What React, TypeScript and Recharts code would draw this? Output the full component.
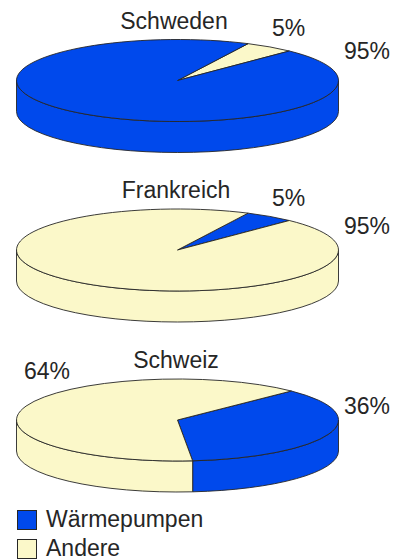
import React from "react";
import { PieChart, Pie, Cell, Legend } from "recharts";

const BLUE = "#0049ec";
const CREAM = "#fbf8c9";
const INK = "#262626";
const FONT = "'Liberation Sans', Arial, sans-serif";
const TEXT_SIZE = 23;

const legendNames = ["Wärmepumpen", "Andere"];
const legendColors = [BLUE, CREAM];

const schwedenNames = ["Andere", "Wärmepumpen"];
const schwedenValues = [5, 95];
const frankreichNames = ["Wärmepumpen", "Andere"];
const frankreichValues = [5, 95];
const schweizNames = ["Wärmepumpen", "Andere"];
const schweizValues = [36, 64];

const colorOf = (name: string) => legendColors[legendNames.indexOf(name)];
const table = (names: string[], values: number[]) =>
  names.map((name, i) => ({ name, value: values[i] }));

const pies = [
  {
    title: "Schweden", cy: 80.5, start: 64, titlePos: [174, 29],
    data: table(schwedenNames, schwedenValues),
    labelPos: [[272, 36], [344, 59]],
  },
  {
    title: "Frankreich", cy: 250, start: 64, titlePos: [176, 198],
    data: table(frankreichNames, frankreichValues),
    labelPos: [[272, 206], [344, 234]],
  },
  {
    title: "Schweiz", cy: 420, start: 45, titlePos: [176, 368],
    data: table(schweizNames, schweizValues),
    labelPos: [[344, 414], [24, 379]],
  },
];

const CX = 177.5;
const RX = 161;
const RY = 41;
const DEPTH = 31;

const pt = (cx: number, cy: number, a: number) => {
  const r = (a * Math.PI) / 180;
  return [cx + RX * Math.cos(r), cy - RY * Math.sin(r)];
};

const TopFace = (p: any) => {
  const { cx, cy, startAngle, endAngle, fill } = p;
  const [x0, y0] = pt(cx, cy, startAngle);
  const [x1, y1] = pt(cx, cy, endAngle);
  const large = Math.abs(startAngle - endAngle) > 180 ? 1 : 0;
  return (
    <path
      d={`M${cx},${cy}L${x0},${y0}A${RX},${RY} 0 ${large} 1 ${x1},${y1}Z`}
      fill={fill}
      stroke={INK}
      strokeWidth={0.9}
      strokeLinejoin="round"
    />
  );
};

const Wall = (p: any) => {
  const { cx, cy, startAngle, endAngle, fill } = p;
  const lo = Math.min(startAngle, endAngle);
  const hi = Math.max(startAngle, endAngle);
  const parts: string[] = [];
  for (const k of [-1, 0]) {
    const a = Math.max(lo, -180 + 360 * k);
    const b = Math.min(hi, 360 * k);
    if (b <= a) continue;
    const [x0, y0] = pt(cx, cy, b);
    const [x1, y1] = pt(cx, cy, a);
    parts.push(
      `M${x0},${y0}A${RX},${RY} 0 0 1 ${x1},${y1}L${x1},${y1 + DEPTH}A${RX},${RY} 0 0 0 ${x0},${y0 + DEPTH}Z`
    );
  }
  return <path d={parts.join("")} fill={fill} stroke={INK} strokeWidth={0.9} strokeLinejoin="round" />;
};

const textStyle = { fontFamily: FONT, fontSize: TEXT_SIZE, fill: INK };

const LegendBox = () => (
  <div style={{ fontFamily: FONT, fontSize: TEXT_SIZE, color: INK, lineHeight: "29px" }}>
    {legendNames.map((n, i) => (
      <div key={n} style={{ display: "flex", alignItems: "center", height: 29 }}>
        <span
          style={{
            display: "inline-block", width: 20, height: 20, marginRight: 9,
            background: legendColors[i], border: `1px solid ${INK}`, boxSizing: "border-box",
          }}
        />
        {n}
      </div>
    ))}
  </div>
);

export default function App() {
  return (
    <div style={{ position: "absolute", left: 0, top: 0, width: 402, height: 560 }}>
      <PieChart width={402} height={560} margin={{ top: 0, right: 0, bottom: 0, left: 0 }}>
        {pies.map((c) => (
          <Pie
            key={c.title + "-wall"}
            data={c.data}
            dataKey="value"
            nameKey="name"
            cx={CX}
            cy={c.cy}
            outerRadius={RX}
            startAngle={c.start}
            endAngle={c.start - 360}
            isAnimationActive={false}
            legendType="none"
            shape={Wall}
            label={false}
            labelLine={false}
          >
            {c.data.map((d) => <Cell key={d.name} fill={colorOf(d.name)} />)}
          </Pie>
        ))}
        {pies.map((c) => (
          <Pie
            key={c.title + "-top"}
            data={c.data}
            dataKey="value"
            nameKey="name"
            cx={CX}
            cy={c.cy}
            outerRadius={RX}
            startAngle={c.start}
            endAngle={c.start - 360}
            isAnimationActive={false}
            legendType="none"
            shape={TopFace}
            labelLine={false}
            label={(p: any) => (
              <text x={c.labelPos[p.index][0]} y={c.labelPos[p.index][1]} {...textStyle}>
                {`${c.data[p.index].value}%`}
              </text>
            )}
          >
            {c.data.map((d) => <Cell key={d.name} fill={colorOf(d.name)} />)}
          </Pie>
        ))}
        {pies.map((c) => (
          <text key={c.title} x={c.titlePos[0]} y={c.titlePos[1]} textAnchor="middle" {...textStyle}>
            {c.title}
          </text>
        ))}
        <Legend
          content={<LegendBox />}
          wrapperStyle={{ position: "absolute", left: 17, top: 505, width: 220, height: 58 }}
        />
      </PieChart>
    </div>
  );
}
